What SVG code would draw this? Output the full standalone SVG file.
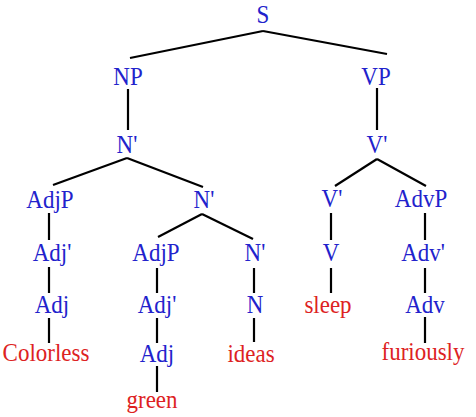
<svg xmlns="http://www.w3.org/2000/svg" width="476" height="417" viewBox="0 0 476 417">
<style>
text{font-family:"Liberation Serif","Times New Roman",serif;font-size:23px;text-anchor:middle}
.c{fill:#2222cc}
.w{fill:#dd2222}
#edges line{stroke:#000;stroke-width:2.2}
</style>
<rect width="476" height="417" fill="#fff"/>
<g id="edges">
<line x1="263" y1="31" x2="130" y2="58"/>
<line x1="263" y1="31" x2="387" y2="54"/>
<line x1="128" y1="89" x2="128" y2="130"/>
<line x1="377" y1="88" x2="377" y2="130"/>
<line x1="127" y1="158" x2="53" y2="185"/>
<line x1="127" y1="158" x2="203" y2="187"/>
<line x1="377" y1="159" x2="335" y2="186"/>
<line x1="377" y1="159" x2="426" y2="186"/>
<line x1="49" y1="213" x2="49" y2="240"/>
<line x1="49" y1="267" x2="49" y2="293"/>
<line x1="49" y1="318" x2="49" y2="343"/>
<line x1="202" y1="214" x2="158" y2="237"/>
<line x1="202" y1="214" x2="253" y2="239"/>
<line x1="157" y1="268" x2="157" y2="293"/>
<line x1="157" y1="318" x2="157" y2="343"/>
<line x1="157" y1="366" x2="157" y2="392"/>
<line x1="254" y1="268" x2="254" y2="293"/>
<line x1="254" y1="318" x2="254" y2="342"/>
<line x1="331" y1="213" x2="331" y2="240"/>
<line x1="331" y1="268" x2="331" y2="293"/>
<line x1="425" y1="213" x2="425" y2="240"/>
<line x1="425" y1="268" x2="425" y2="293"/>
<line x1="425" y1="317" x2="425" y2="343"/>
</g>
<g id="S"><text class="c" transform="translate(263 23) scale(1 1.12)">S</text></g>
<g id="NP"><text class="c" transform="translate(128 85) scale(1 1.12)">NP</text></g>
<g id="VP"><text class="c" transform="translate(376 85) scale(1 1.12)">VP</text></g>
<g id="Nbar1"><text class="c" transform="translate(127 153) scale(1 1.12)">N'</text></g>
<g id="Vbar1"><text class="c" transform="translate(377 153) scale(1 1.12)">V'</text></g>
<g id="AdjP1"><text class="c" transform="translate(50 208) scale(1 1.12)">AdjP</text></g>
<g id="Nbar2"><text class="c" transform="translate(204 208) scale(1 1.12)">N'</text></g>
<g id="Vbar2"><text class="c" transform="translate(332 207) scale(1 1.12)">V'</text></g>
<g id="AdvP"><text class="c" transform="translate(421 207) scale(1 1.12)">AdvP</text></g>
<g id="Adjbar1"><text class="c" transform="translate(52 261) scale(1 1.12)">Adj'</text></g>
<g id="AdjP2"><text class="c" transform="translate(156 261) scale(1 1.12)">AdjP</text></g>
<g id="Nbar3"><text class="c" transform="translate(255 261) scale(1 1.12)">N'</text></g>
<g id="V"><text class="c" transform="translate(331 261) scale(1 1.12)">V</text></g>
<g id="Advbar"><text class="c" transform="translate(423 261) scale(1 1.12)">Adv'</text></g>
<g id="Adj1"><text class="c" transform="translate(52 313) scale(1 1.12)">Adj</text></g>
<g id="Adjbar2"><text class="c" transform="translate(157 313) scale(1 1.12)">Adj'</text></g>
<g id="N"><text class="c" transform="translate(255 313) scale(1 1.12)">N</text></g>
<g id="sleep"><text class="w" transform="translate(328 313) scale(1 1.12)">sleep</text></g>
<g id="Adv"><text class="c" transform="translate(425 313) scale(1 1.12)">Adv</text></g>
<g id="Colorless"><text class="w" transform="translate(46 361) scale(1 1.12)">Colorless</text></g>
<g id="Adj2"><text class="c" transform="translate(157 362) scale(1 1.12)">Adj</text></g>
<g id="ideas"><text class="w" transform="translate(251 362) scale(1 1.12)">ideas</text></g>
<g id="furiously"><text class="w" transform="translate(423 360) scale(1 1.12)">furiously</text></g>
<g id="green"><text class="w" transform="translate(152 408) scale(1 1.12)">green</text></g>
</svg>
